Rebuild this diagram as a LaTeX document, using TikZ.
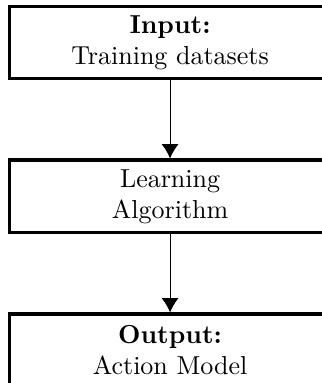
\documentclass[tikz,border=0pt]{standalone}
\usepackage{tikz}
\usepackage[cmex10]{amsmath}
\usepackage{amssymb}
\usetikzlibrary{positioning,arrows.meta}

\begin{document}
\begin{tikzpicture}
	\tikzstyle{stagebox}=[draw=black, very thick, align=center, minimum width=4.34cm, minimum height=0.985cm, inner sep=0pt]
	\tikzstyle{flowarrow}=[-{Latex[length=5.5pt,width=6.5pt]}, black]
	\useasboundingbox (0,0) rectangle (4.35,-5.18);
	\node [stagebox] (input) at (2.30,-0.575) {\textbf{Input:}\\Training datasets};
	\node [stagebox, below=1.055cm of input] (learn) {Learning\\Algorithm};
	\node [stagebox, below=1.055cm of learn] (output) {\textbf{Output:}\\Action Model};
	\draw [flowarrow] (input) -- (learn);
	\draw [flowarrow] (learn) -- (output);
\end{tikzpicture}
\end{document}
